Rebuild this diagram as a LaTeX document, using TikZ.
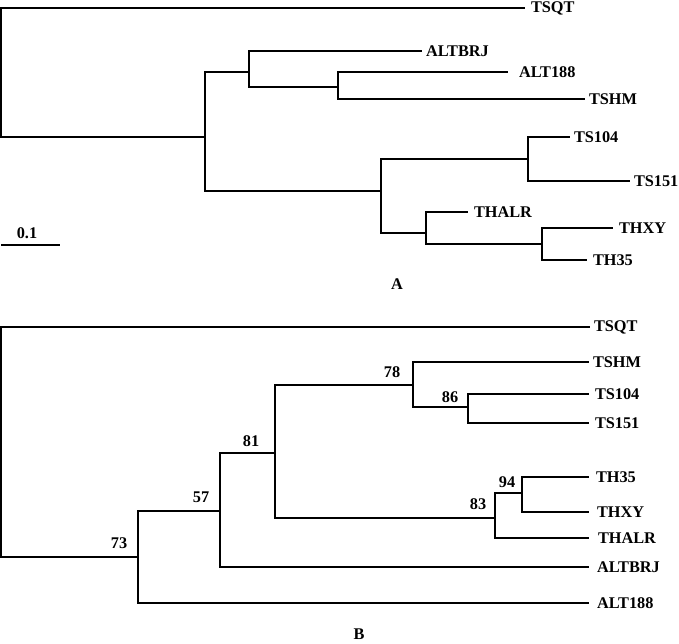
\documentclass[tikz,border=0pt]{standalone}
\usepackage{fontspec}
\setmainfont{Liberation Serif}
\usetikzlibrary{positioning}

\begin{document}
\begin{tikzpicture}[x=1pt,y=-1pt,line width=2pt,
  taxon/.style={anchor=west,inner xsep=3pt,inner ysep=0pt,font=\fontsize{16.3}{19}\selectfont\bfseries},
  boot/.style={inner sep=0pt,font=\fontsize{16.3}{19}\selectfont\bfseries}]
\useasboundingbox (0,0) rectangle (679,644);
% tree A
\coordinate (ra) at (1,72);
\coordinate (a1) at (205,137);
\coordinate (a2) at (249,72);
\coordinate (a3) at (338,87);
\coordinate (a4) at (381,191);
\coordinate (a5) at (528,159);
\coordinate (a6) at (426,233);
\coordinate (a7) at (542,244);
\node[taxon,inner xsep=5pt] (tsqtA) at (525,8){TSQT};
\node[taxon] (altbrjA) at (422,51){ALTBRJ};
\node[taxon,inner xsep=10pt] (alt188A) at (508,72){ALT188};
\node[taxon] (tshmA) at (585,99){TSHM};
\node[taxon] (ts104A) at (570,137){TS104};
\node[taxon] (ts151A) at (630,181){TS151};
\node[taxon,inner xsep=5pt] (thalrA) at (468,212){THALR};
\node[taxon,inner xsep=5pt] (thxyA) at (613,228){THXY};
\node[taxon,inner xsep=5pt] (th35A) at (587,260){TH35};
  \draw (ra) |- (tsqtA.west);
  \draw (ra) |- (a1);
  \draw (a1) |- (a2);
  \draw (a1) |- (a4);
  \draw (a2) |- (altbrjA.west);
  \draw (a2) |- (a3);
  \draw (a3) |- (alt188A.west);
  \draw (a3) |- (tshmA.west);
  \draw (a4) |- (a5);
  \draw (a4) |- (a6);
  \draw (a5) |- (ts104A.west);
  \draw (a5) |- (ts151A.west);
  \draw (a6) |- (thalrA.west);
  \draw (a6) |- (a7);
  \draw (a7) |- (thxyA.west);
  \draw (a7) |- (th35A.west);
% scale bar
\coordinate (sb1) at (1,245);
\coordinate (sb2) at (60,245);
  \draw (sb1) -- (sb2);
\node[boot] (scale) at (27,233){0.1};
\node[boot] (capA) at (397,284){A};
% tree B
\coordinate (rb) at (1,440);
\coordinate (b1) at (138,557);
\coordinate (b2) at (220,511);
\coordinate (b3) at (275,453);
\coordinate (b4) at (413,385);
\coordinate (b5) at (468,407);
\coordinate (b6) at (495,518);
\coordinate (b7) at (522,493);
\node[taxon] (tsqtB) at (590,327){TSQT};
\node[taxon] (tshmB) at (589,362){TSHM};
\node[taxon,inner xsep=5pt] (ts104B) at (589,394){TS104};
\node[taxon,inner xsep=5pt] (ts151B) at (589,423){TS151};
\node[taxon,inner xsep=6pt] (th35B) at (589,477){TH35};
\node[taxon,inner xsep=7pt] (thxyB) at (589,512){THXY};
\node[taxon,inner xsep=8pt] (thalrB) at (589,538){THALR};
\node[taxon,inner xsep=7pt] (altbrjB) at (589,567){ALTBRJ};
\node[taxon,inner xsep=7pt] (alt188B) at (589,603){ALT188};
  \draw (rb) |- (tsqtB.west);
  \draw (rb) |- (b1);
  \draw (b1) |- (b2);
  \draw (b1) |- (alt188B.west);
  \draw (b2) |- (b3);
  \draw (b2) |- (altbrjB.west);
  \draw (b3) |- (b4);
  \draw (b3) |- (b6);
  \draw (b4) |- (tshmB.west);
  \draw (b4) |- (b5);
  \draw (b5) |- (ts104B.west);
  \draw (b5) |- (ts151B.west);
  \draw (b6) |- (b7);
  \draw (b6) |- (thalrB.west);
  \draw (b7) |- (th35B.west);
  \draw (b7) |- (thxyB.west);
% bootstrap values
\node[boot] (v73) at (119,543){73};
\node[boot] (v57) at (201,497){57};
\node[boot] (v81) at (251,441){81};
\node[boot] (v78) at (392,372){78};
\node[boot] (v86) at (450,397){86};
\node[boot] (v83) at (478,504){83};
\node[boot] (v94) at (507,482){94};
\node[boot] (capB) at (359,634){B};
\end{tikzpicture}
\end{document}
